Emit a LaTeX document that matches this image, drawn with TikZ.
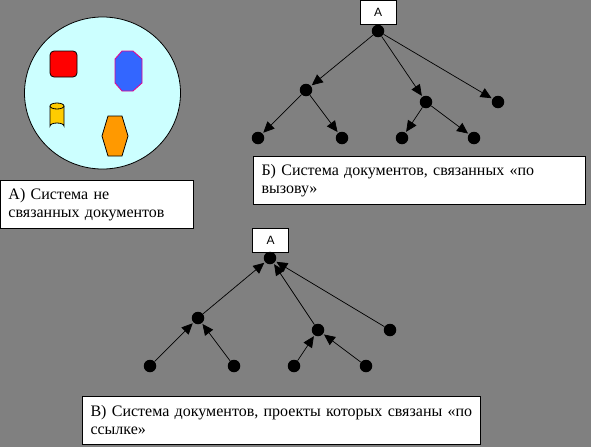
\documentclass[tikz,border=0pt]{standalone}
\usepackage{fontspec}
\setmainfont{Liberation Serif}
\newfontfamily\tagfont{Liberation Sans}
\usetikzlibrary{arrows.meta}

\definecolor{bg}{HTML}{808080}
\definecolor{pool}{HTML}{CCFFFF}
\definecolor{docblue}{HTML}{3366FF}
\definecolor{docyellow}{HTML}{FFCC00}
\definecolor{docorange}{HTML}{FF9900}

\tikzset{
  doc/.style={circle,fill=black,inner sep=0pt,minimum size=12.5pt},
  link/.style={-{Triangle[length=11pt,width=10pt]},line width=.7pt,shorten >=1pt},
  tag/.style={draw,fill=white,line width=.8pt,minimum width=36pt,minimum height=24pt,inner sep=0pt,font=\tagfont\fontsize{12}{13}\selectfont},
  caption/.style={draw,fill=white,line width=1pt,anchor=north west,align=left,inner xsep=8pt,font=\rmfamily\fontsize{16}{18}\selectfont}
}

\begin{document}
\begin{tikzpicture}[x=1pt,y=-1pt]
\fill[bg] (0,0) rectangle (591,447);
\useasboundingbox (0,0) rectangle (591,447);
% A) unrelated documents
\draw[fill=pool,line width=.8pt] (102.5,93) ellipse (78 and 76);
\draw[fill=red,line width=.8pt,rounded corners=4pt] (50,51) rectangle (77,77);
\draw[fill=docblue,draw=magenta,line width=.8pt] (122,51)--(133,51)--(142,59)--(142,83)--(133,91)--(122,91)--(115,83)--(115,59)--cycle;
\draw[fill=docyellow,line width=.8pt] (50,106) -- (50,126) arc[start angle=180,end angle=360,x radius=7,y radius=3] -- (64,106);
\draw[fill=docyellow,line width=.8pt] (57,106) ellipse (7 and 3);
\draw[fill=docorange,line width=.8pt] (108,116)--(122,116)--(128,136)--(122,156)--(108,156)--(102,136)--cycle;
\node[caption,minimum width=193pt,minimum height=48pt,text width=177pt] (capA) at (0,180) {А) Система не\\связанных документов};

% B) linked by call
\node[tag] (tagB) at (378,12) {А};
\foreach \n/\x/\y in {rB/378/31,b1/306/90,b2/426/102,b3/498/102,b4/258/138,b5/342/138,b6/402/138,b7/474/138}
  \node[doc] (\n) at (\x,\y) {};
\foreach \a/\b in {rB/b1,rB/b2,rB/b3,b1/b4,b1/b5,b2/b6,b2/b7}
  \draw[link] (\a) -- (\b);
\node[caption,minimum width=332pt,minimum height=48pt,text width=316pt] (capB) at (253,156) {Б) Система документов, связанных «по\\вызову»};

% C) linked by reference
\node[tag] (tagC) at (270.5,240) {А};
\foreach \n/\x/\y in {rC/270/258,c1/198/318,c2/318/330,c3/390/330,c4/150/366,c5/234/366,c6/294/366,c7/366/366}
  \node[doc] (\n) at (\x,\y) {};
\foreach \a/\b in {c1/rC,c2/rC,c3/rC,c4/c1,c5/c1,c6/c2,c7/c2}
  \draw[link] (\a) -- (\b);
\node[caption,minimum width=398pt,minimum height=48pt,text width=382pt] (capC) at (82,396) {В) Система документов, проекты которых связаны «по\\ссылке»};
\end{tikzpicture}
\end{document}
